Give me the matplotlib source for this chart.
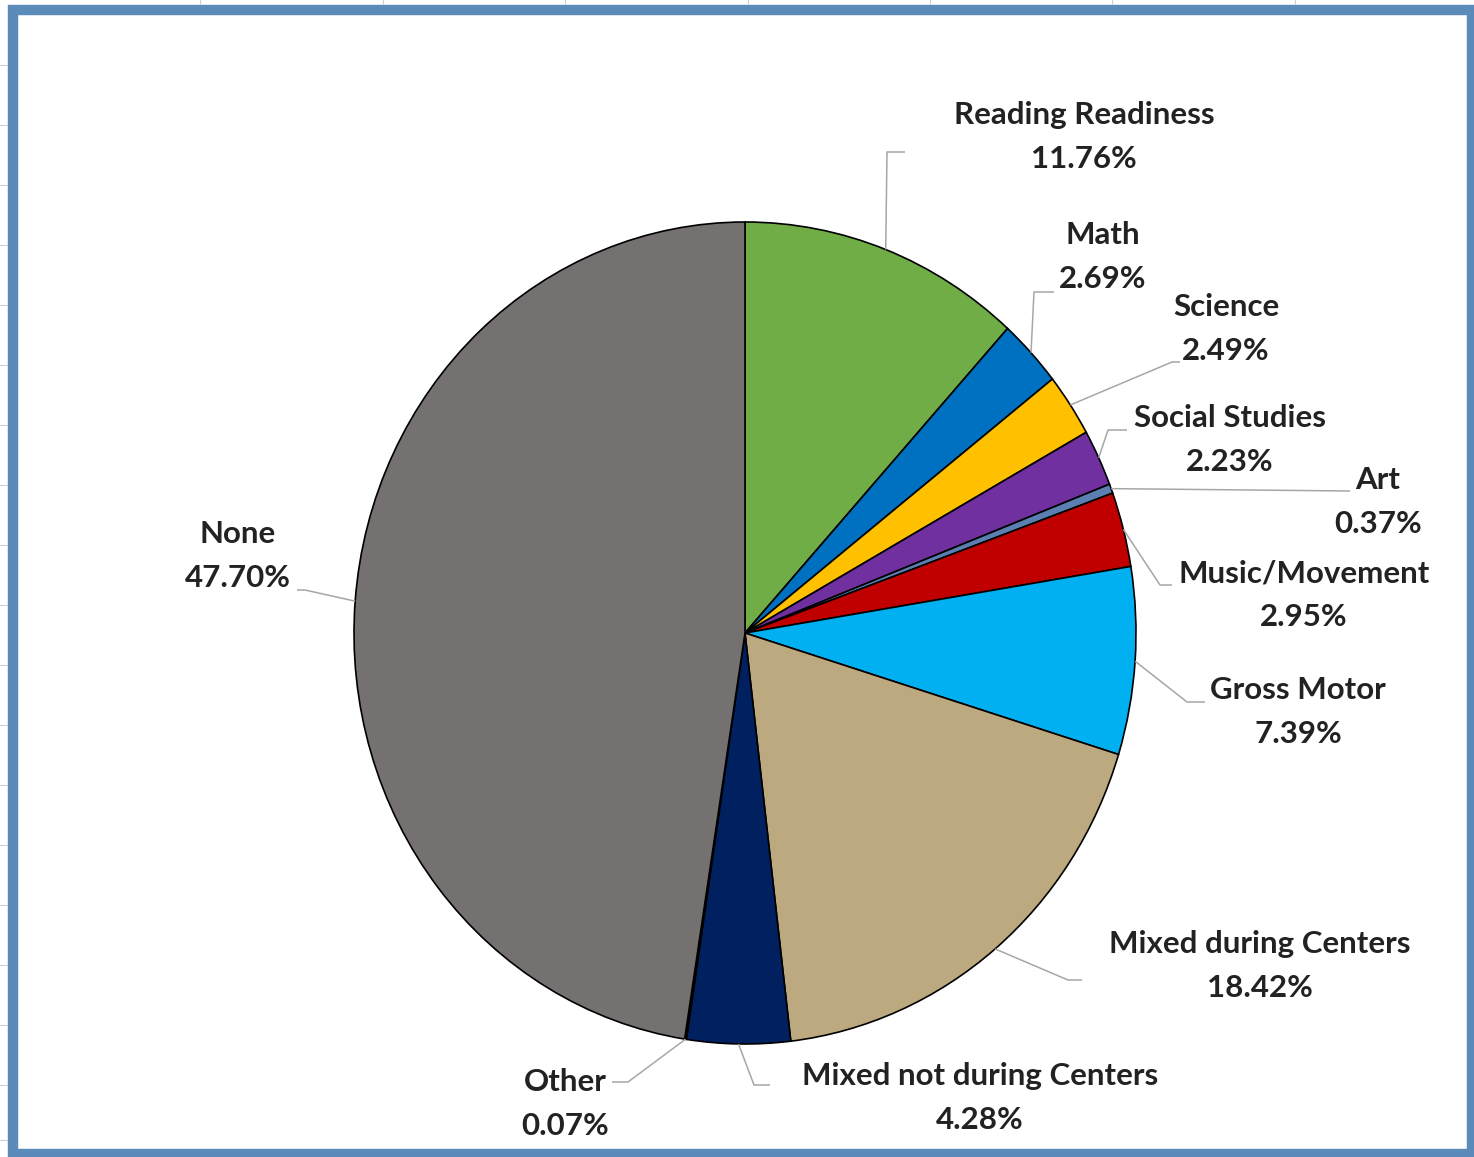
import numpy as np
import matplotlib.pyplot as plt
from matplotlib.patches import Rectangle

# Dados
categorias = ['Reading Readiness', 'Math', 'Science', 'Social Studies', 'Art',
              'Music/Movement', 'Gross Motor', 'Mixed during Centers',
              'Mixed not during Centers', 'Other', 'None']
percentuais = [11.76, 2.69, 2.49, 2.23, 0.37, 2.95, 7.39, 18.42, 4.28, 0.07, 47.70]
cores = ['#70AD47', '#0070C0', '#FFC000', '#7030A0', '#5B7FB0', '#C00000',
         '#00B0F0', '#BDA97F', '#002060', '#3F3F3F', '#767171']

# Layout (pixels): centro do texto e caminho da linha guia ate o rotulo
rotulo_pos = [(1084, 137), (1103, 257), (1226, 329), (1230, 440), (1378, 502),
              (1304, 595), (1298, 712), (1260, 966), (980, 1098), (565, 1104),
              (238, 556)]
guia = [[(887, 152), (905, 152)],
        [(1034, 292), (1054, 292)],
        [(1172, 362), (1180, 362)],
        [(1108, 430), (1127, 430)],
        [(1350, 491)],
        [(1160, 585), (1172, 585)],
        [(1187, 702), (1205, 702)],
        [(1068, 980), (1082, 980)],
        [(754, 1085), (770, 1085)],
        [(628, 1082), (612, 1082)],
        [(305, 590), (297, 590)]]

W, H = 1474, 1157
fig = plt.figure(figsize=(W / 100, H / 100), dpi=100)
fig.patch.set_facecolor('white')

# Eixo da pizza (levemente esticado, como na imagem original)
cx, cy, rx, ry = 745, 633, 391, 411
ax = fig.add_axes([(cx - rx) / W, (H - cy - ry) / H, 2 * rx / W, 2 * ry / H])
wedges, _ = ax.pie(percentuais, colors=cores, startangle=90, counterclock=False,
                   radius=1, wedgeprops=dict(edgecolor='black', linewidth=1.2))
ax.set_aspect('auto')
ax.set_xlim(-1, 1)
ax.set_ylim(-1, 1)
ax.axis('off')

# Eixo de sobreposicao em pixels
ov = fig.add_axes([0, 0, 1, 1], zorder=5)
ov.set_xlim(0, W)
ov.set_ylim(H, 0)
ov.axis('off')
ov.patch.set_alpha(0)

# Moldura azul
ov.add_patch(Rectangle((13, 10), 1459, 1144, fill=False, edgecolor='#5B8BB8',
                       linewidth=7.5))

# Linhas de grade da planilha fora da moldura
for xg in [200, 383, 565, 748, 930, 1112, 1295]:
    ov.plot([xg, xg], [0, 4], color='#D0D0D0', lw=0.8)
for yg in [65, 125, 185, 245, 305, 365, 425, 485, 545, 605, 665, 725, 785,
           845, 905, 965, 1025, 1085, 1140]:
    ov.plot([0, 7], [yg, yg], color='#D0D0D0', lw=0.8)

for w, cat, pct, pos, caminho in zip(wedges, categorias, percentuais, rotulo_pos, guia):
    # ponto da borda no meio da fatia
    ang = np.deg2rad((w.theta1 + w.theta2) / 2)
    borda = ax.transData.transform((np.cos(ang), np.sin(ang)))
    bx, by = ov.transData.inverted().transform(borda)
    xs = [bx] + [p[0] for p in caminho]
    ys = [by] + [p[1] for p in caminho]
    ov.plot(xs, ys, color='#A6A6A6', lw=1.1, solid_capstyle='butt')
    ov.text(pos[0], pos[1], f'{cat}\n{pct:.2f}%', ha='center', va='center',
            multialignment='center', fontsize=22.5, fontweight='bold',
            family=['Lato', 'DejaVu Sans'], color='#222222', linespacing=1.66)

fig.savefig('out.png', dpi=100)
